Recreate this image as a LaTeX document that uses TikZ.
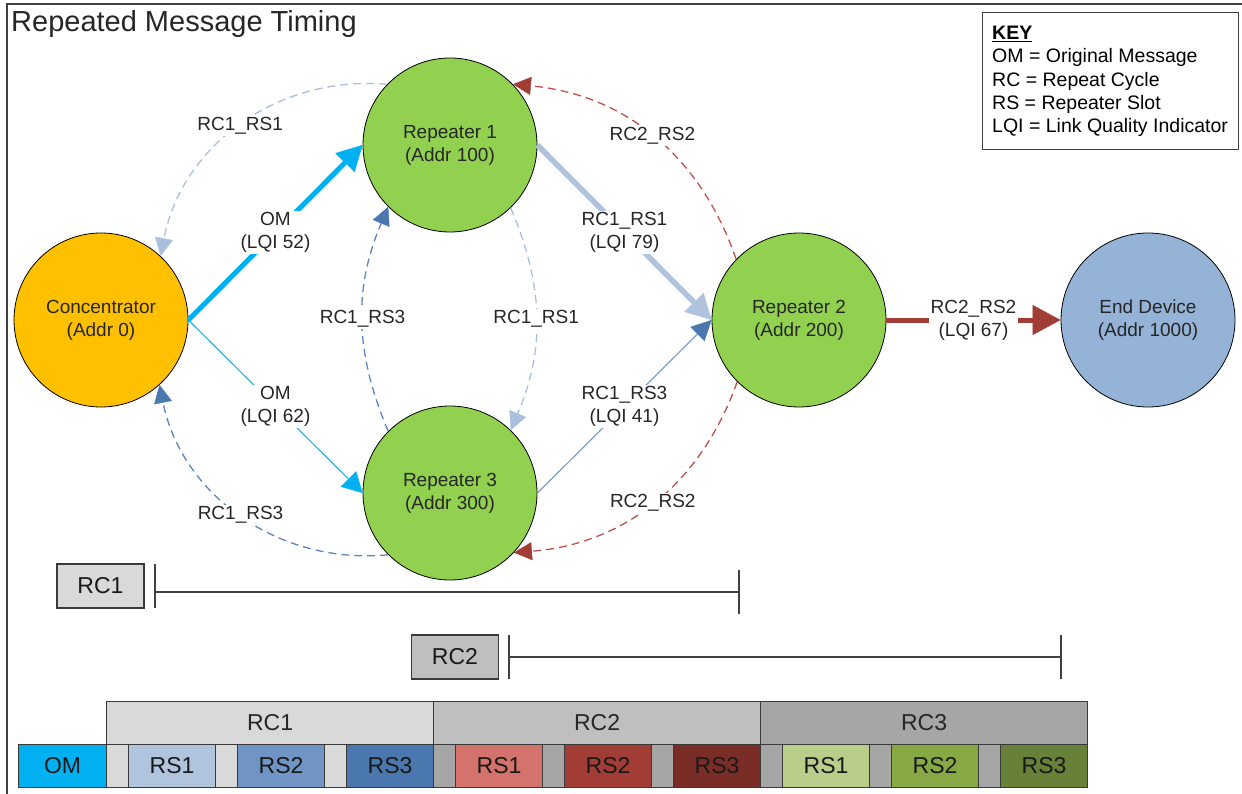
\documentclass[tikz,border=0pt]{standalone}
\usepackage{fontspec}
\setmainfont{Liberation Sans}
\usetikzlibrary{arrows.meta}

% palette
\definecolor{omblue}{HTML}{00B0F0}
\definecolor{concfill}{HTML}{FFC000}
\definecolor{repfill}{HTML}{92D050}
\definecolor{endfill}{HTML}{95B3D7}
\definecolor{txt}{HTML}{262626}
\definecolor{framecol}{HTML}{404040}
\definecolor{cellline}{HTML}{3A3A3A}
\definecolor{lightlink}{HTML}{AFC3DE}
\definecolor{dashlight}{HTML}{A9BFDD}
\definecolor{dashblue}{HTML}{5F86BC}
\definecolor{thinblue}{HTML}{7D9DCB}
\definecolor{tipblue}{HTML}{4A78AE}
\definecolor{dashred}{HTML}{BD524D}
\definecolor{tipred}{HTML}{A23D36}
% timeline cells: head<k>, gap<k>, slot<k><j>
\definecolor{head0}{HTML}{D9D9D9}
\definecolor{head1}{HTML}{BFBFBF}
\definecolor{head2}{HTML}{A6A6A6}
\definecolor{gap0}{HTML}{D9D9D9}
\definecolor{gap1}{HTML}{A6A6A6}
\definecolor{gap2}{HTML}{A6A6A6}
\definecolor{slot00}{HTML}{B0C4DE}
\definecolor{slot01}{HTML}{7094C4}
\definecolor{slot02}{HTML}{4A78AE}
\definecolor{slot10}{HTML}{D3736B}
\definecolor{slot11}{HTML}{A23D36}
\definecolor{slot12}{HTML}{7A2D27}
\definecolor{slot20}{HTML}{B8CE8A}
\definecolor{slot21}{HTML}{86A845}
\definecolor{slot22}{HTML}{678139}

\tikzset{
  dev/.style={circle, draw=black, line width=0.8pt, minimum size=174pt,
    inner sep=0pt, align=center, text=txt, font=\fontsize{19}{23}\selectfont},
  lbl/.style={fill=white, inner sep=1.5pt, align=center, text=txt,
    font=\fontsize{19}{23}\selectfont},
  keytxt/.style={anchor=base west, inner sep=0pt, text=black,
    font=\fontsize{19.5}{23}\selectfont},
  cell/.style={rectangle, draw=cellline, line width=1.1pt, anchor=north west,
    inner sep=0pt, minimum height=43pt, text=black!90,
    font=\fontsize{23}{27}\selectfont},
  rangebox/.style={rectangle, draw=cellline, line width=1.1pt, inner sep=0pt,
    minimum width=87pt, minimum height=44pt, text=black!90,
    font=\fontsize{23}{27}\selectfont},
  rule/.style={draw=framecol, line width=1.1pt},
  linkdash/.style={line width=1.3pt, dash pattern=on 8pt off 5pt},
  smalltip/.style={-{Triangle[length=18pt,width=18pt,line width=0.4pt,#1]}},
}

\begin{document}
\begin{tikzpicture}[x=1pt,y=1pt]
\useasboundingbox (0,0) rectangle (1242,-794);
\draw[framecol, line width=1.5pt] (7,-794) -- (7,-4) -- (1242,-4);

\node[anchor=west, inner sep=0pt, text=txt, font=\fontsize{29}{34}\selectfont]
  (title) at (11,-24) {Repeated Message Timing};

% devices
\node[dev, fill=concfill] (conc) at (101,-320) {Concentrator\\(Addr 0)};
\node[dev, fill=repfill] (r1) at (450,-145) {Repeater 1\\(Addr 100)};
\node[dev, fill=repfill] (r3) at (450,-493) {Repeater 3\\(Addr 300)};
\node[dev, fill=repfill] (r2) at (799,-320) {Repeater 2\\(Addr 200)};
\node[dev, fill=endfill] (enddev) at (1148,-320) {End Device\\(Addr 1000)};

% original message
\draw[omblue, line width=5pt,
  -{Triangle[length=25pt,width=27pt,line width=0.4pt]}]
  (conc.east) -- node[lbl] {OM\\(LQI 52)} (r1.west);
\draw[omblue, line width=1pt,
  -{Triangle[length=20pt,width=22pt,line width=0.4pt]}]
  (conc.east) -- node[lbl] {OM\\(LQI 62)} (r3.west);

% repeat cycle 1
\draw[lightlink, line width=5.5pt,
  -{Triangle[length=25pt,width=27pt,line width=0.4pt]}]
  (r1.east) -- node[lbl] {RC1\_RS1\\(LQI 79)} (r2.west);
\draw[thinblue, line width=1.2pt,
  -{Triangle[length=20pt,width=20pt,line width=0.4pt,color=tipblue]}]
  (r3.east) -- node[lbl] {RC1\_RS3\\(LQI 41)} (r2.west);

\draw[dashlight, linkdash, smalltip={color=dashlight}]
  (r1.136) to[bend right=42] node[lbl] {RC1\_RS1} (conc.47);
\draw[dashlight, linkdash, smalltip={color=dashlight}]
  (r1.314) to[bend left=23] node[lbl] {RC1\_RS1} (r3.46);
\draw[dashblue, linkdash, smalltip={color=tipblue}]
  (r3.135) to[bend left=23] node[lbl] {RC1\_RS3} (r1.225);
\draw[dashblue, linkdash, smalltip={color=tipblue}]
  (r3.225) to[bend left=42] node[lbl] {RC1\_RS3} (conc.312);

% repeat cycle 2
\draw[dashred, linkdash, smalltip={color=tipred}]
  (r2.136) to[bend right=33] node[lbl] {RC2\_RS2} (r1.44);
\draw[dashred, linkdash, smalltip={color=tipred}]
  (r2.225) to[bend left=33] node[lbl] {RC2\_RS2} (r3.317);
\draw[tipred, line width=5pt,
  -{Triangle[length=28pt,width=30pt,line width=0.4pt]}]
  (r2.east) -- node[lbl] {RC2\_RS2\\(LQI 67)} (enddev.west);

% key
\node[rectangle, draw=framecol, line width=1pt, anchor=north west,
  minimum width=256pt, minimum height=137pt, inner sep=0pt]
  (keybox) at (982,-12) {};
\node[keytxt, font=\fontsize{19.5}{23}\selectfont\bfseries] (key0) at (992,-40) {\underline{KEY}};
\node[keytxt] (key1) at (992,-63) {OM = Original Message};
\node[keytxt] (key2) at (992,-87) {RC = Repeat Cycle};
\node[keytxt] (key3) at (992,-110) {RS = Repeater Slot};
\node[keytxt] (key4) at (992,-133) {LQI = Link Quality Indicator};

% repeat cycle spans
\node[rangebox, fill=head0] (spanA) at (100.5,-586) {RC1};
\coordinate (spanAl) at (155,-592);
\coordinate (spanAr) at (739,-592);
\draw[rule] (spanAl) -- (spanAr);
\draw[rule] (155,-564) -- (155,-608);
\draw[rule] (739,-570) -- (739,-614);

\node[rangebox, fill=head1] (spanB) at (455,-657) {RC2};
\coordinate (spanBl) at (509,-657);
\coordinate (spanBr) at (1061,-657);
\draw[rule] (spanBl) -- (spanBr);
\draw[rule] (509,-635) -- (509,-679);
\draw[rule] (1061,-635) -- (1061,-679);

% slot timeline
\node[cell, fill=omblue, minimum width=88pt] (omcell) at (18,-744) {OM};
\foreach \k in {0,1,2} {
  \pgfmathsetmacro\bx{106+327*\k}
  \pgfmathtruncatemacro\rc{\k+1}
  \node[cell, fill=head\k, minimum width=327pt, text=txt] (head\k) at (\bx,-701) {RC\rc};
  \foreach \j in {0,1,2} {
    \pgfmathsetmacro\gx{106+327*\k+109*\j}
    \pgfmathsetmacro\sx{\gx+22}
    \pgfmathtruncatemacro\rs{\j+1}
    \node[cell, fill=gap\k, minimum width=22pt] (gap\k\j) at (\gx,-744) {};
    \node[cell, fill=slot\k\j, minimum width=87pt] (slot\k\j) at (\sx,-744) {RS\rs};
  }
}
\end{tikzpicture}
\end{document}
